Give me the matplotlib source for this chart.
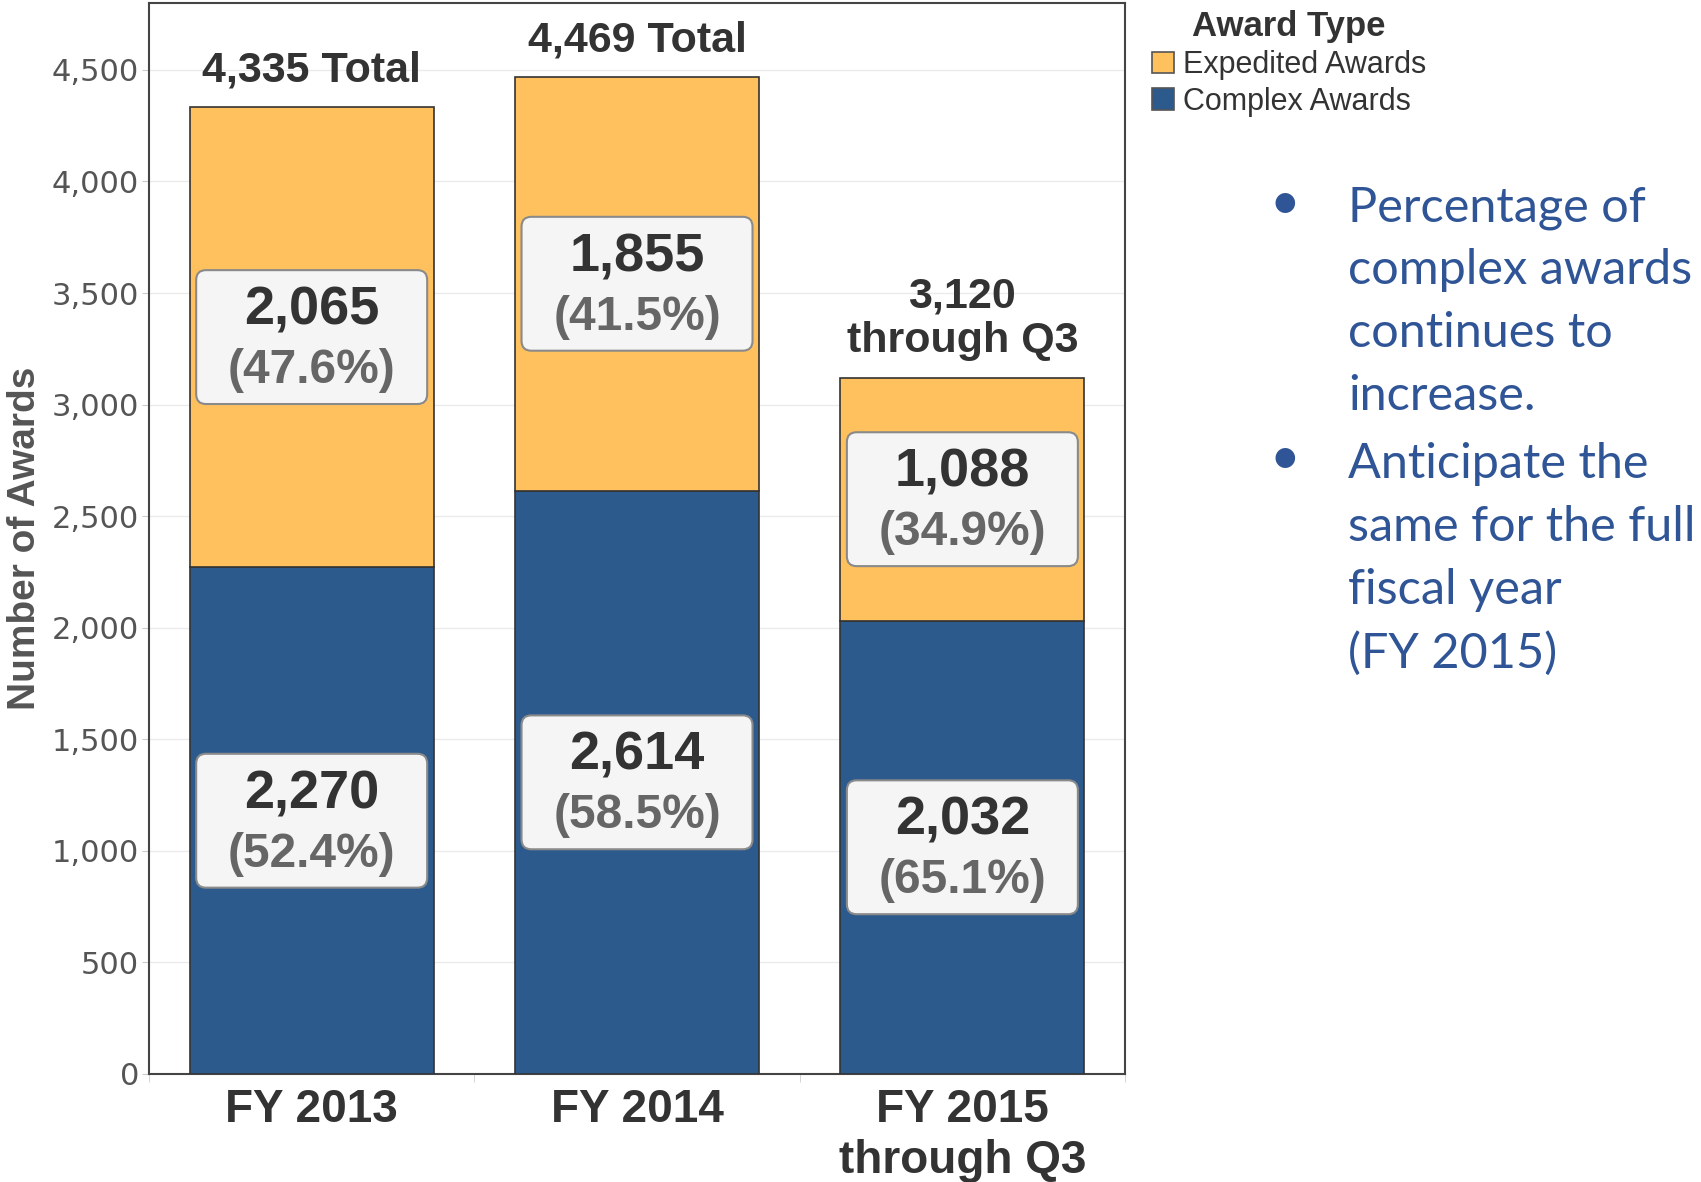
import matplotlib
matplotlib.use("Agg")
import matplotlib.pyplot as plt
from matplotlib.patches import FancyBboxPatch, Patch
import numpy as np

categories = ["FY 2013", "FY 2014", "FY 2015\nthrough Q3"]
complex_awards = [2270, 2614, 2032]
expedited_awards = [2065, 1855, 1088]
complex_pct = ["52.4%", "58.5%", "65.1%"]
expedited_pct = ["47.6%", "41.5%", "34.9%"]
total_labels = ["4,335 Total", "4,469 Total", "3,120\nthrough Q3"]
y_ticks = [0, 500, 1000, 1500, 2000, 2500, 3000, 3500, 4000, 4500]
bullet_texts = ["Percentage of\ncomplex awards\ncontinues to\nincrease.",
                "Anticipate the\nsame for the full\nfiscal year\n(FY 2015)"]

ORANGE = "#FFC15E"
BLUE = "#2C5A8D"
DARK = "#333333"
GRAY = "#666666"
TEXTBLUE = "#2F5597"

plt.rcParams['font.family'] = ['Liberation Sans', 'DejaVu Sans']

fig = plt.figure(figsize=(17.01, 11.82), dpi=100)
ax = fig.add_axes([0.0876, 0.0914, 0.5738, 0.9061])

x = np.arange(len(categories))
w = 0.75
ax.bar(x, complex_awards, width=w, color=BLUE, edgecolor=DARK, linewidth=1.2, zorder=3)
ax.bar(x, expedited_awards, width=w, bottom=complex_awards, color=ORANGE,
       edgecolor=DARK, linewidth=1.2, zorder=3)

ax.set_xlim(-0.5, 2.5)
ax.set_ylim(0, 4800)
ax.set_yticks(y_ticks)
ax.set_yticklabels([f"{v:,}" for v in y_ticks], fontsize=22, color="#555555", family="DejaVu Sans")
ax.set_xticks(x)
ax.set_xticklabels(categories, fontsize=33, fontweight="bold", color=DARK, linespacing=1.22)
ax.tick_params(axis="x", length=0, pad=10)
ax.set_xticks([-0.5, 0.5, 1.5, 2.5], minor=True)
ax.tick_params(axis="x", which="minor", length=6, color="#CCCCCC")
ax.tick_params(axis="y", length=5, color="#CCCCCC", pad=2)
ax.grid(axis="y", color="#EBEBEB", linewidth=1, zorder=0)
ax.set_axisbelow(True)
for s in ax.spines.values():
    s.set_color("#444444")
    s.set_linewidth(1.5)

ax.set_ylabel("Number of Awards", fontsize=28, fontweight="bold", color="#555555", va="center")
ax.yaxis.set_label_coords(-0.127, 0.5)

# boxes
box_w = 0.71
box_h = 600
aspect = (4800 / ax.get_position().height / 11.82) / (3.0 / ax.get_position().width / 17.01)
def label_box(xc, yc, num, pct):
    p = FancyBboxPatch((xc - box_w / 2, yc - box_h / 2), box_w, box_h,
                       boxstyle="round,pad=0,rounding_size=0.03",
                       mutation_aspect=aspect,
                       facecolor="#F5F5F5", edgecolor="#8A8A8A", linewidth=1.5, zorder=4)
    ax.add_patch(p)
    ax.annotate(num, (xc, yc), xytext=(0, 19), textcoords="offset points",
                ha="center", va="center", fontsize=39, fontweight="bold", color=DARK, zorder=5)
    ax.annotate(f"({pct})", (xc, yc), xytext=(0, -24), textcoords="offset points",
                ha="center", va="center", fontsize=34.5, fontweight="bold", color=GRAY, zorder=5)

for i in range(len(categories)):
    c = complex_awards[i]
    e = expedited_awards[i]
    label_box(x[i], c / 2, f"{c:,}", complex_pct[i])
    label_box(x[i], c + e / 2, f"{e:,}", expedited_pct[i])
    ax.annotate(total_labels[i], (x[i], c + e), xytext=(0, 12), textcoords="offset points",
                ha="center", va="bottom", fontsize=31, fontweight="bold", color=DARK,
                linespacing=1.15, zorder=5)

# legend
handles = [Patch(facecolor=ORANGE, edgecolor="#555555", linewidth=1.2),
           Patch(facecolor=BLUE, edgecolor="#555555", linewidth=1.2)]
leg = fig.legend(handles, ["Expedited Awards", "Complex Awards"], title="Award Type",
                 loc="upper left", bbox_to_anchor=(0.663, 1.012), frameon=False,
                 fontsize=22, title_fontproperties={"weight": "bold", "size": 25},
                 handlelength=0.7, handleheight=0.7, handletextpad=0.3,
                 labelspacing=0.22, borderpad=0.3)
for t in leg.get_texts():
    t.set_color(DARK)
leg.get_title().set_color(DARK)

# bullets
bullet_y = [0.8266, 0.611]
text_top = [0.843, 0.626]
for by, ty, txt in zip(bullet_y, text_top, bullet_texts):
    fig.text(0.7555, by, "•", fontsize=38, color=TEXTBLUE, family="Lato", va="center", ha="center")
    fig.text(0.7925, ty, txt, fontsize=35, color=TEXTBLUE, family="Lato",
             va="top", ha="left", linespacing=1.52)

fig.savefig("out.png", dpi=100)
